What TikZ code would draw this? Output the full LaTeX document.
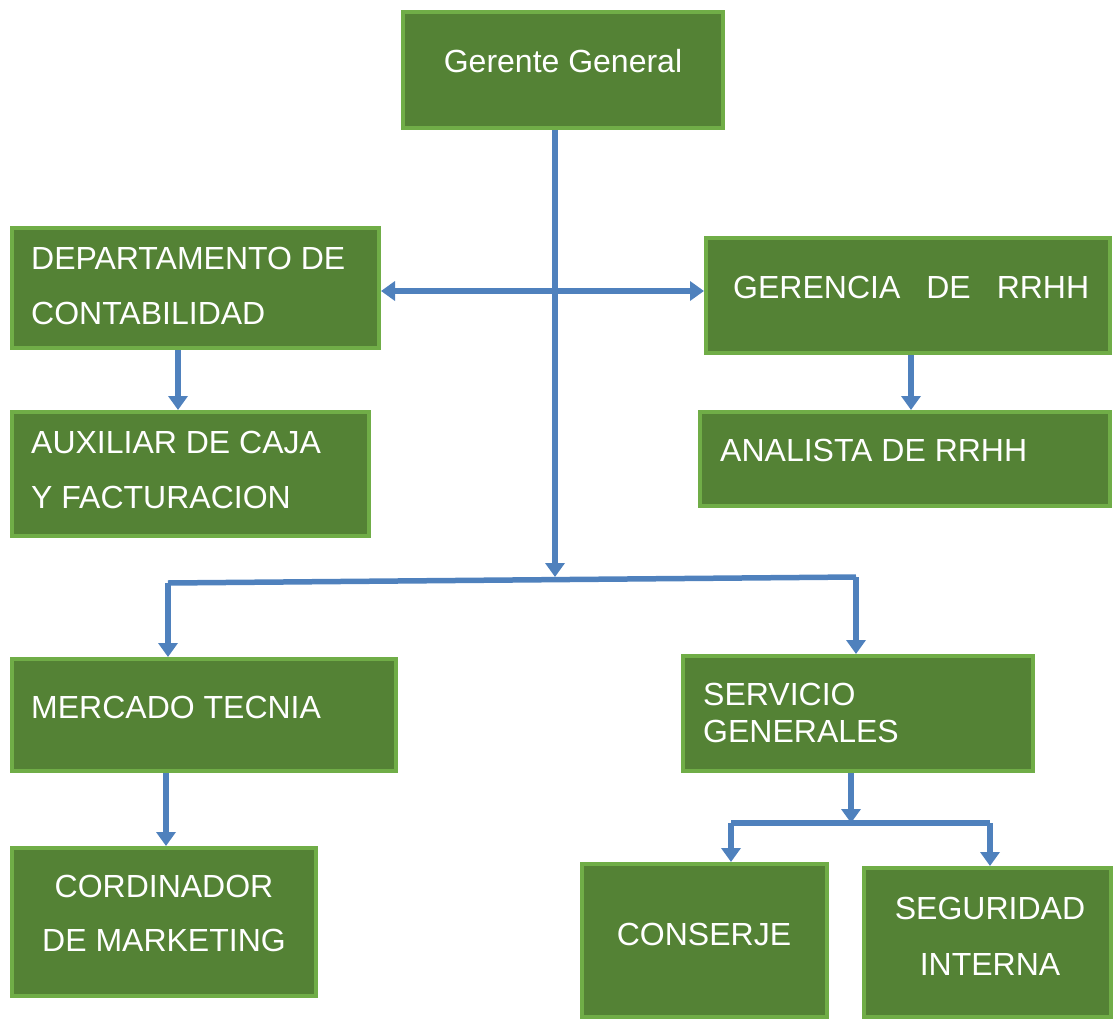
\documentclass[tikz,border=0pt]{standalone}
\usepackage{fontspec}
\setmainfont{Liberation Sans}
\usepackage{tikz}
\usetikzlibrary{arrows.meta}

\definecolor{boxfill}{HTML}{548235}
\definecolor{boxline}{HTML}{70AD47}
\definecolor{arrowblue}{HTML}{4F81BD}

\begin{document}
\begin{tikzpicture}[x=1pt,y=-1pt,
	box/.style={draw=boxline, fill=boxfill, line width=4pt, inner sep=0pt},
	txt/.style={text=white, inner sep=0pt, font=\fontsize{32}{55}\selectfont},
	link/.style={draw=arrowblue, line width=5.5pt},
	arr/.style={link, -{Triangle[length=14pt,width=19pt]}},
	darr/.style={link, {Triangle[length=14pt,width=19pt]}-{Triangle[length=14pt,width=19pt]}}]
				\useasboundingbox (0,0) rectangle (1113,1019);
				
				% boxes
				\node[box, minimum width=320, minimum height=116] (gg) at (563,70) {};
				\node[box, minimum width=367, minimum height=120] (dep) at (195.5,288) {};
				\node[box, minimum width=404, minimum height=115] (ger) at (908,295.5) {};
				\node[box, minimum width=357, minimum height=124] (aux) at (190.5,474) {};
				\node[box, minimum width=410, minimum height=94] (ana) at (905,459) {};
				\node[box, minimum width=384, minimum height=112] (mer) at (204,715) {};
				\node[box, minimum width=350, minimum height=115] (ser) at (858,713.5) {};
				\node[box, minimum width=304, minimum height=148] (cor) at (164,922) {};
				\node[box, minimum width=245, minimum height=153] (con) at (704.5,940.5) {};
				\node[box, minimum width=247, minimum height=149] (seg) at (987.5,942.5) {};
				
				% texts
				\node[txt] (ggt) at (563,61) {Gerente General};
				\node[txt, anchor=west, align=left] (dept) at (31,285.5) {DEPARTAMENTO DE\\CONTABILIDAD};
				\node[txt, anchor=west, text width=356] (gert) at (733,287) {GERENCIA\hfill DE\hfill RRHH};
				\node[txt, anchor=west, align=left] (auxt) at (31,469.5) {AUXILIAR DE CAJA\\Y FACTURACION};
				\node[txt, anchor=west] (anat) at (720,450) {ANALISTA DE RRHH};
				\node[txt, anchor=west] (mert) at (31,707) {MERCADO TECNIA};
				\node[txt, anchor=west, align=left, font=\fontsize{32}{37}\selectfont] (sert) at (703,712.5) {SERVICIO\\GENERALES};
				\node[txt, align=center, font=\fontsize{32}{54}\selectfont] (cort) at (164,913) {CORDINADOR\\DE MARKETING};
				\node[txt] (cont) at (704,934) {CONSERJE};
				\node[txt, align=center, font=\fontsize{32}{56}\selectfont] (segt) at (990,936) {SEGURIDAD\\INTERNA};
				
				% connectors
				\coordinate (mid) at (555,577);
				\coordinate (hy) at (0,291);
				\coordinate (bl) at (168,583);
				\coordinate (br) at (856,577);
				\coordinate (sj) at (851,823);
				\coordinate (sl) at (731,823);
				\coordinate (sr) at (990,823);
				
				\draw[arr] (gg.south -| mid) -- (mid);
				\draw[darr] (dep.east |- hy) -- (ger.west |- hy);
				\draw[link] (bl) -- (br);
				\draw[arr] (bl) -- (bl |- mer.north);
				\draw[arr] (br) -- (br |- ser.north);
				\draw[arr] (dep.south -| 178,0) -- (aux.north -| 178,0);
				\draw[arr] (ger.south -| 911,0) -- (ana.north -| 911,0);
				\draw[arr] (mer.south -| 166,0) -- (cor.north -| 166,0);
				\draw[arr] (ser.south -| sj) -- (sj);
				\draw[link] (sl) -- (sr);
				\draw[arr] (sl) -- (sl |- con.north);
				\draw[arr] (sr) -- (sr |- seg.north);
\end{tikzpicture}
\end{document}
